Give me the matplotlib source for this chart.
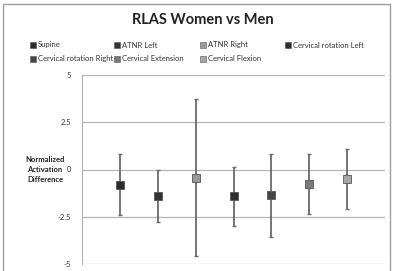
import matplotlib
matplotlib.use("Agg")
import matplotlib.pyplot as plt
from matplotlib.patches import Rectangle
from matplotlib.lines import Line2D

plt.rcParams['font.family'] = ['Lato', 'DejaVu Sans']

categories = ["Supine", "ATNR Left", "ATNR Right", "Cervical rotation Left",
              "Cervical rotation Right", "Cervical Extension", "Cervical Flexion"]
means = [-0.80, -1.39, -0.43, -1.40, -1.33, -0.75, -0.50]
upper = [0.80, 0.00, 3.71, 0.15, 0.84, 0.82, 1.08]
lower = [-2.41, -2.78, -4.58, -2.99, -3.55, -2.35, -2.07]
colors = ["#2b2b2b", "#333333", "#9a9a9a", "#2e2e2e", "#454545", "#7a7a7a", "#a8a8a8"]
yticks = [-5, -2.5, 0, 2.5, 5]
ytick_labels = ["-5", "-2.5", "0", "2.5", "5"]

W, H = 393, 271
fig = plt.figure(figsize=(W / 100, H / 100), dpi=100)
ax = fig.add_axes([82/W, 1 - 264/H, (385-82)/W, (264-75)/H])

handles = []
for i, (cat, m, u, l, c) in enumerate(zip(categories, means, upper, lower, colors)):
    x = i + 1
    ax.errorbar([x], [m], yerr=[[m - l], [u - m]], fmt='none', ecolor='#6a6a6a',
                elinewidth=1.3, capsize=1.6, capthick=1.0, zorder=3)
    ax.plot([x], [m], marker='s', markersize=6.2, color=c, markeredgecolor='#555555',
            markeredgewidth=0.6, linestyle='none', zorder=4)
    handles.append(Line2D([], [], marker='s', markersize=4, color=c, linestyle='none',
                          markeredgecolor='#555555', markeredgewidth=0.4, label=cat))

ax.set_xlim(0, 8)
ax.set_ylim(-5, 5)
ax.set_yticks(yticks)
ax.set_yticklabels(ytick_labels)
ax.set_xticks([])
ax.grid(axis='y', color='#b5b5b5', linewidth=0.9)
ax.set_axisbelow(True)
for s in ['top', 'right', 'bottom']:
    ax.spines[s].set_visible(False)
ax.spines['left'].set_color('#b0b0b0')
ax.spines['left'].set_linewidth(0.8)
ax.tick_params(axis='y', length=0, labelsize=5.5, labelcolor='#333333', pad=8)

fig.text(45/W, 1 - 169/H, "Normalized\nActivation\nDifference", ha='center', va='center',
         fontsize=5.5, fontweight='bold', color='#222222', linespacing=1.5)

fig.text(203/W, 1 - 20/H, "RLAS Women vs Men", ha='center', va='center',
         fontsize=10.5, fontweight='bold', color='#222222')

# legend entries: (left x px, centre y px) per entry
legend_pos = [(31, 45), (115, 45), (201, 45), (286, 45), (31, 59), (115, 59), (201, 59)]
for h, cat, (lx, ly) in zip(handles, categories, legend_pos):
    leg = fig.legend([h], [cat], loc='center left', bbox_to_anchor=(lx/W, 1 - ly/H),
                     frameon=False, fontsize=5.5, handlelength=0.6, handletextpad=0.3,
                     borderaxespad=0, borderpad=0)
    for t in leg.get_texts():
        t.set_color('#333333')

fig.patches.append(Rectangle((3/W, -0.05), (390-3)/W, 1 - 4/H + 0.05,
                             transform=fig.transFigure, fill=False, edgecolor='#a0a0a0',
                             linewidth=1.0))

fig.savefig("out.png", dpi=100)
